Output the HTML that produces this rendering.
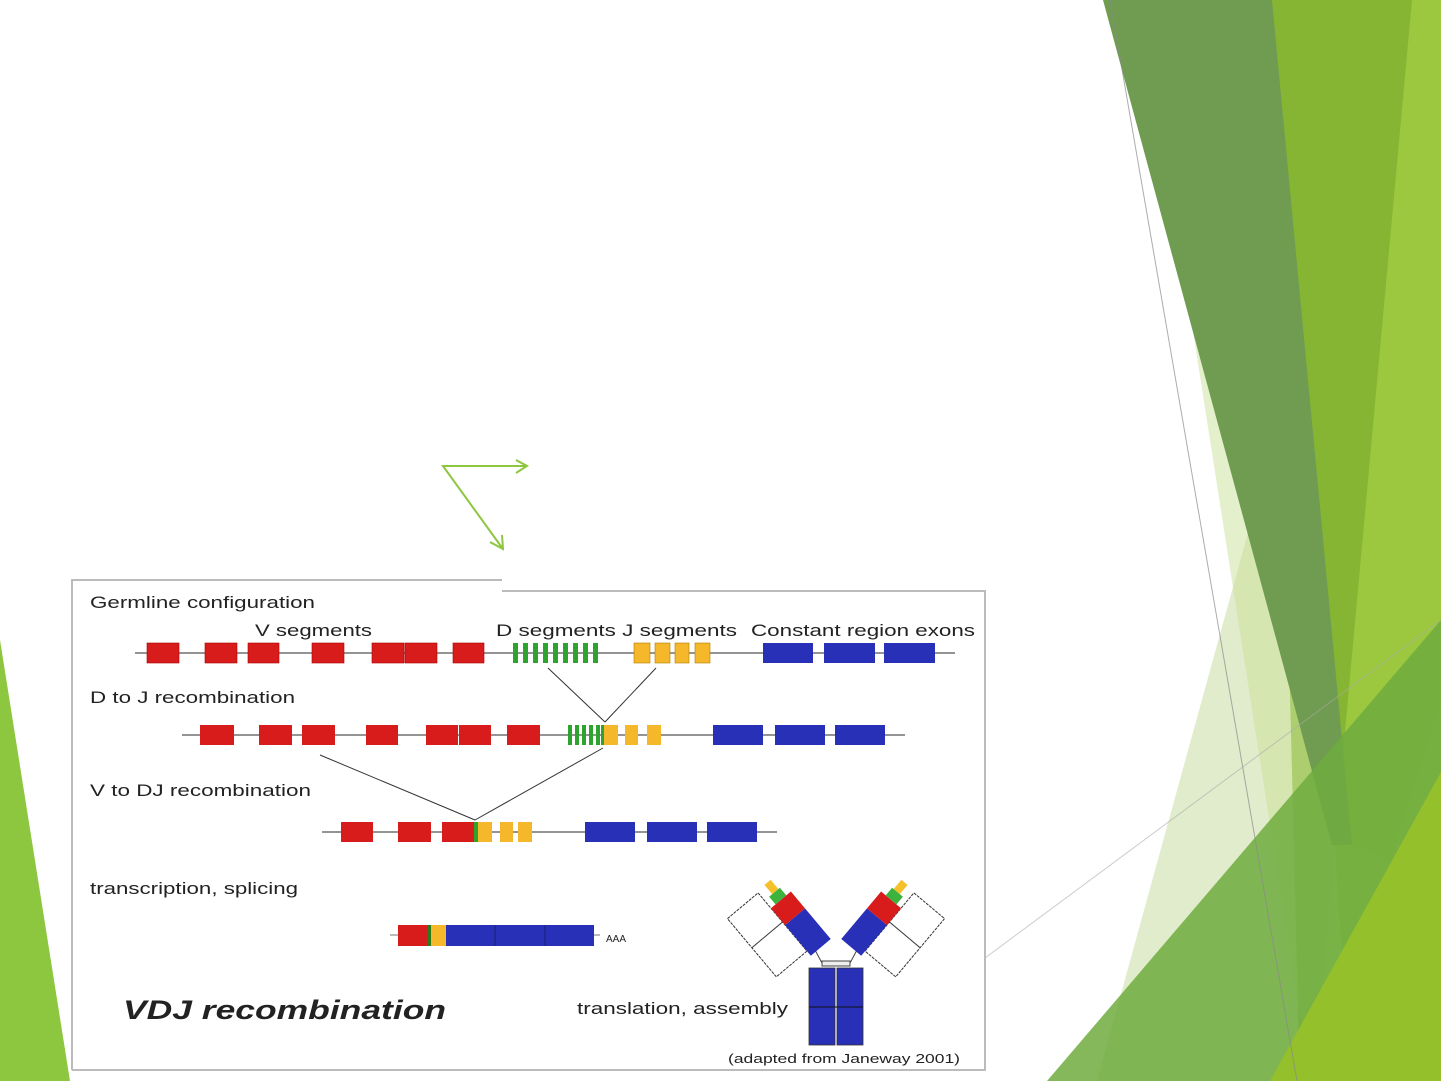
<!DOCTYPE html>
<html><head><meta charset="utf-8"><style>
html,body{margin:0;padding:0;background:#fff;}
svg{display:block;}
text{font-family:"Liberation Sans",Arial,sans-serif;fill:#222;}
</style></head><body>
<svg width="1441" height="1081" viewBox="0 0 1441 1081" xmlns="http://www.w3.org/2000/svg">
<rect width="1441" height="1081" fill="#fff"/>
<!-- right decorative shapes -->
<polygon points="1272,0 1441,0 1441,1081 1300,1081" fill="#86b533"/>
<polygon points="1412,0 1441,0 1441,1081 1313,1081" fill="#9bc83e"/>
<polygon points="1097,1081 1290,380 1330,834 1390,862 1441,700 1441,1081" fill="#a5c96a" opacity="0.35"/>
<polygon points="1193,331 1335,845 1350,1081 1310,1081" fill="#c9df98" opacity="0.5"/>
<polygon points="1103,0 1272,0 1352,845 1332,845" fill="#6f9c50"/>
<polygon points="1047,1081 1441,620 1441,1081" fill="#6fac3e" opacity="0.85"/>
<polygon points="1270,1081 1441,772 1441,1081" fill="#93c02b"/>
<line x1="1110" y1="0" x2="1297" y2="1081" stroke="#8a8a8a" stroke-width="1" opacity="0.7"/>
<line x1="985" y1="958" x2="1441" y2="620" stroke="#aaa" stroke-width="1" opacity="0.6"/>
<!-- left green -->
<polygon points="0,640 70,1081 0,1081" fill="#8dc63f"/>
<!-- arrows -->
<g stroke="#8dc63f" stroke-width="2" fill="none">
<polyline points="527,466 443,466 503,549"/>
<polyline points="516,460 527,466 516,473"/>
<polyline points="490,542 503,549 502,535"/>
</g>
<!-- diagram frame -->
<rect x="72" y="580" width="913" height="490" fill="#fff"/>
<g stroke="#bbb" stroke-width="2" fill="none">
<polyline points="72,1070 72,580 502,580"/>
<polyline points="502,591 985,591 985,1070 72,1070"/>
</g>
<g font-size="17">
<text x="90" y="608" textLength="225" lengthAdjust="spacingAndGlyphs">Germline configuration</text>
<text x="255" y="636" textLength="117" lengthAdjust="spacingAndGlyphs">V segments</text>
<text x="496" y="636" textLength="241" lengthAdjust="spacingAndGlyphs">D segments J segments</text>
<text x="751" y="636" textLength="224" lengthAdjust="spacingAndGlyphs">Constant region exons</text>
<text x="90" y="703" textLength="205" lengthAdjust="spacingAndGlyphs">D to J recombination</text>
<text x="90" y="796" textLength="221" lengthAdjust="spacingAndGlyphs">V to DJ recombination</text>
<text x="90" y="894" textLength="208" lengthAdjust="spacingAndGlyphs">transcription, splicing</text>
<text x="577" y="1014" textLength="211" lengthAdjust="spacingAndGlyphs">translation, assembly</text>
</g>
<text x="123" y="1019" font-size="27" font-weight="bold" font-style="italic" fill="#111" textLength="323" lengthAdjust="spacingAndGlyphs">VDJ recombination</text>
<text x="728" y="1063" font-size="13" textLength="232" lengthAdjust="spacingAndGlyphs">(adapted from Janeway 2001)</text>
<text x="606" y="942" font-size="10">AAA</text>
<!-- row 1 -->
<line x1="135" y1="653" x2="955" y2="653" stroke="#555" stroke-width="1.3"/>
<g fill="#d81c1c" stroke="#a00" stroke-width="0.6">
<rect x="147" y="643" width="32" height="20"/><rect x="205" y="643" width="32" height="20"/><rect x="248" y="643" width="31" height="20"/>
<rect x="312" y="643" width="32" height="20"/><rect x="372" y="643" width="32" height="20"/><rect x="405" y="643" width="32" height="20"/><rect x="453" y="643" width="31" height="20"/>
</g>
<g fill="#2ea32e">
<rect x="513" y="643" width="5" height="20"/><rect x="523" y="643" width="5" height="20"/><rect x="533" y="643" width="5" height="20"/><rect x="543" y="643" width="5" height="20"/><rect x="553" y="643" width="5" height="20"/><rect x="563" y="643" width="5" height="20"/><rect x="573" y="643" width="5" height="20"/><rect x="583" y="643" width="5" height="20"/><rect x="593" y="643" width="5" height="20"/>
</g>
<g fill="#f5b82a" stroke="#b07a00" stroke-width="0.6">
<rect x="634" y="643" width="16" height="20"/><rect x="655" y="643" width="15" height="20"/><rect x="675" y="643" width="14" height="20"/><rect x="695" y="643" width="15" height="20"/>
</g>
<g fill="#2830b8">
<rect x="763" y="643" width="50" height="20"/><rect x="824" y="643" width="51" height="20"/><rect x="884" y="643" width="51" height="20"/>
</g>
<line x1="548" y1="668" x2="605" y2="722" stroke="#333"/><line x1="656" y1="668" x2="605" y2="722" stroke="#333"/>
<!-- row 2 -->
<line x1="182" y1="735" x2="905" y2="735" stroke="#555" stroke-width="1.3"/>
<g fill="#d81c1c">
<rect x="200" y="725" width="34" height="20"/><rect x="259" y="725" width="33" height="20"/><rect x="302" y="725" width="33" height="20"/><rect x="366" y="725" width="32" height="20"/><rect x="426" y="725" width="32" height="20"/><rect x="459" y="725" width="32" height="20"/><rect x="507" y="725" width="33" height="20"/>
</g>
<g fill="#2ea32e">
<rect x="568" y="725" width="4" height="20"/><rect x="575" y="725" width="4" height="20"/><rect x="582" y="725" width="4" height="20"/><rect x="589" y="725" width="4" height="20"/><rect x="596" y="725" width="4" height="20"/><rect x="601" y="725" width="3" height="20"/>
</g>
<g fill="#f5b82a">
<rect x="604" y="725" width="14" height="20"/><rect x="625" y="725" width="13" height="20"/><rect x="647" y="725" width="14" height="20"/>
</g>
<g fill="#2830b8">
<rect x="713" y="725" width="50" height="20"/><rect x="775" y="725" width="50" height="20"/><rect x="835" y="725" width="50" height="20"/>
</g>
<line x1="320" y1="755" x2="475" y2="820" stroke="#333"/><line x1="603" y1="748" x2="475" y2="820" stroke="#333"/>
<!-- row 3 -->
<line x1="322" y1="832" x2="777" y2="832" stroke="#555" stroke-width="1.3"/>
<g fill="#d81c1c">
<rect x="341" y="822" width="32" height="20"/><rect x="398" y="822" width="33" height="20"/><rect x="442" y="822" width="33" height="20"/>
</g>
<rect x="474" y="822" width="4" height="20" fill="#2ea32e"/>
<g fill="#f5b82a">
<rect x="478" y="822" width="14" height="20"/><rect x="500" y="822" width="13" height="20"/><rect x="518" y="822" width="14" height="20"/>
</g>
<g fill="#2830b8">
<rect x="585" y="822" width="50" height="20"/><rect x="647" y="822" width="50" height="20"/><rect x="707" y="822" width="50" height="20"/>
</g>
<!-- row 4 -->
<line x1="390" y1="935" x2="600" y2="935" stroke="#777"/>
<rect x="398" y="925" width="30" height="21" fill="#d81c1c"/>
<rect x="428" y="925" width="3" height="21" fill="#2a7a1a"/>
<rect x="431" y="925" width="15" height="21" fill="#f5b82a"/>
<rect x="446" y="925" width="148" height="21" fill="#2830b8"/>
<line x1="495" y1="925" x2="495" y2="946" stroke="#1a1f70"/><line x1="545" y1="925" x2="545" y2="946" stroke="#1a1f70"/>
<!-- antibody -->
<g fill="#2830b8" stroke="#333" stroke-width="0.8">
<rect x="809" y="968" width="26" height="77"/><rect x="837" y="968" width="26" height="77"/>
</g>
<line x1="809" y1="1007" x2="863" y2="1007" stroke="#111"/>
<rect x="822" y="961" width="28" height="5" fill="#eee" stroke="#444" stroke-width="1"/>
<line x1="822" y1="963" x2="815" y2="950" stroke="#444"/><line x1="850" y1="963" x2="857" y2="950" stroke="#444"/>
<g transform="translate(820,948) rotate(-40)">
<rect x="-52" y="-82" width="40" height="76" fill="#fff" stroke="#333" stroke-width="1" stroke-dasharray="3,1"/>
<line x1="-52" y1="-44" x2="-12" y2="-44" stroke="#333"/>
<rect x="-12" y="-40" width="26" height="40" fill="#2830b8"/>
<rect x="-12" y="-62" width="26" height="22" fill="#d81c1c"/>
<rect x="-6" y="-72" width="14" height="10" fill="#3cb33c"/>
<rect x="-2" y="-84" width="8" height="12" fill="#f5c02a"/>
</g>
<g transform="translate(852,948) rotate(40)">
<rect x="12" y="-82" width="40" height="76" fill="#fff" stroke="#333" stroke-width="1" stroke-dasharray="3,1"/>
<line x1="12" y1="-44" x2="52" y2="-44" stroke="#333"/>
<rect x="-14" y="-40" width="26" height="40" fill="#2830b8"/>
<rect x="-14" y="-62" width="26" height="22" fill="#d81c1c"/>
<rect x="-8" y="-72" width="14" height="10" fill="#3cb33c"/>
<rect x="-6" y="-84" width="8" height="12" fill="#f5c02a"/>
</g>
</svg>
</body></html>
